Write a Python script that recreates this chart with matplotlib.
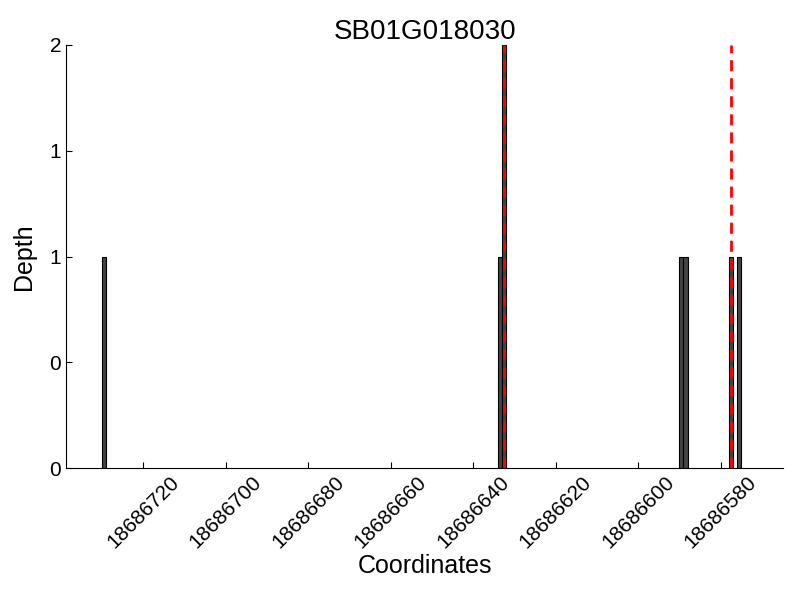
import matplotlib
matplotlib.use("Agg")
import matplotlib.pyplot as plt
from matplotlib.ticker import FormatStrFormatter

plt.rcParams['font.family'] = ['Liberation Sans', 'DejaVu Sans']

title = "SB01G018030"
positions = [18686729, 18686633, 18686632, 18686589, 18686588, 18686577, 18686575]
depths = [1, 1, 2, 1, 1, 1, 1]
markers = [18686632.5, 18686577.5]
xlim = (18686738.8, 18686564.8)
xticks = [18686720, 18686700, 18686680, 18686660, 18686640, 18686620, 18686600, 18686580]
yticks = [0, 0.5, 1, 1.5, 2]

fig = plt.figure(figsize=(8, 6), dpi=100)
ax = fig.add_axes([0.0825, 0.22, 0.979 - 0.0825, 0.925 - 0.22])

ax.bar(positions, depths, width=1, align='edge', color='#444444',
       edgecolor='black', linewidth=0.8)
for m in markers:
    ax.axvline(m, color='red', linestyle='--', linewidth=2, dashes=(4, 2.5))

ax.set_xlim(*xlim)
ax.set_ylim(0, 2)
ax.set_xticks(xticks)
ax.set_xticklabels([str(t) for t in xticks], rotation=45, ha='center')
ax.set_yticks(yticks)
ax.yaxis.set_major_formatter(FormatStrFormatter('%d'))
ax.tick_params(direction='in', length=4, labelsize=15, top=False, right=False)
ax.tick_params(axis='x', pad=3)
ax.spines['top'].set_visible(False)
ax.spines['right'].set_visible(False)

ax.set_title(title, fontsize=20, pad=2)
ax.set_xlabel("Coordinates", fontsize=18, labelpad=2)
ax.set_ylabel("Depth", fontsize=18, labelpad=10)

fig.savefig("out.png", dpi=100)
